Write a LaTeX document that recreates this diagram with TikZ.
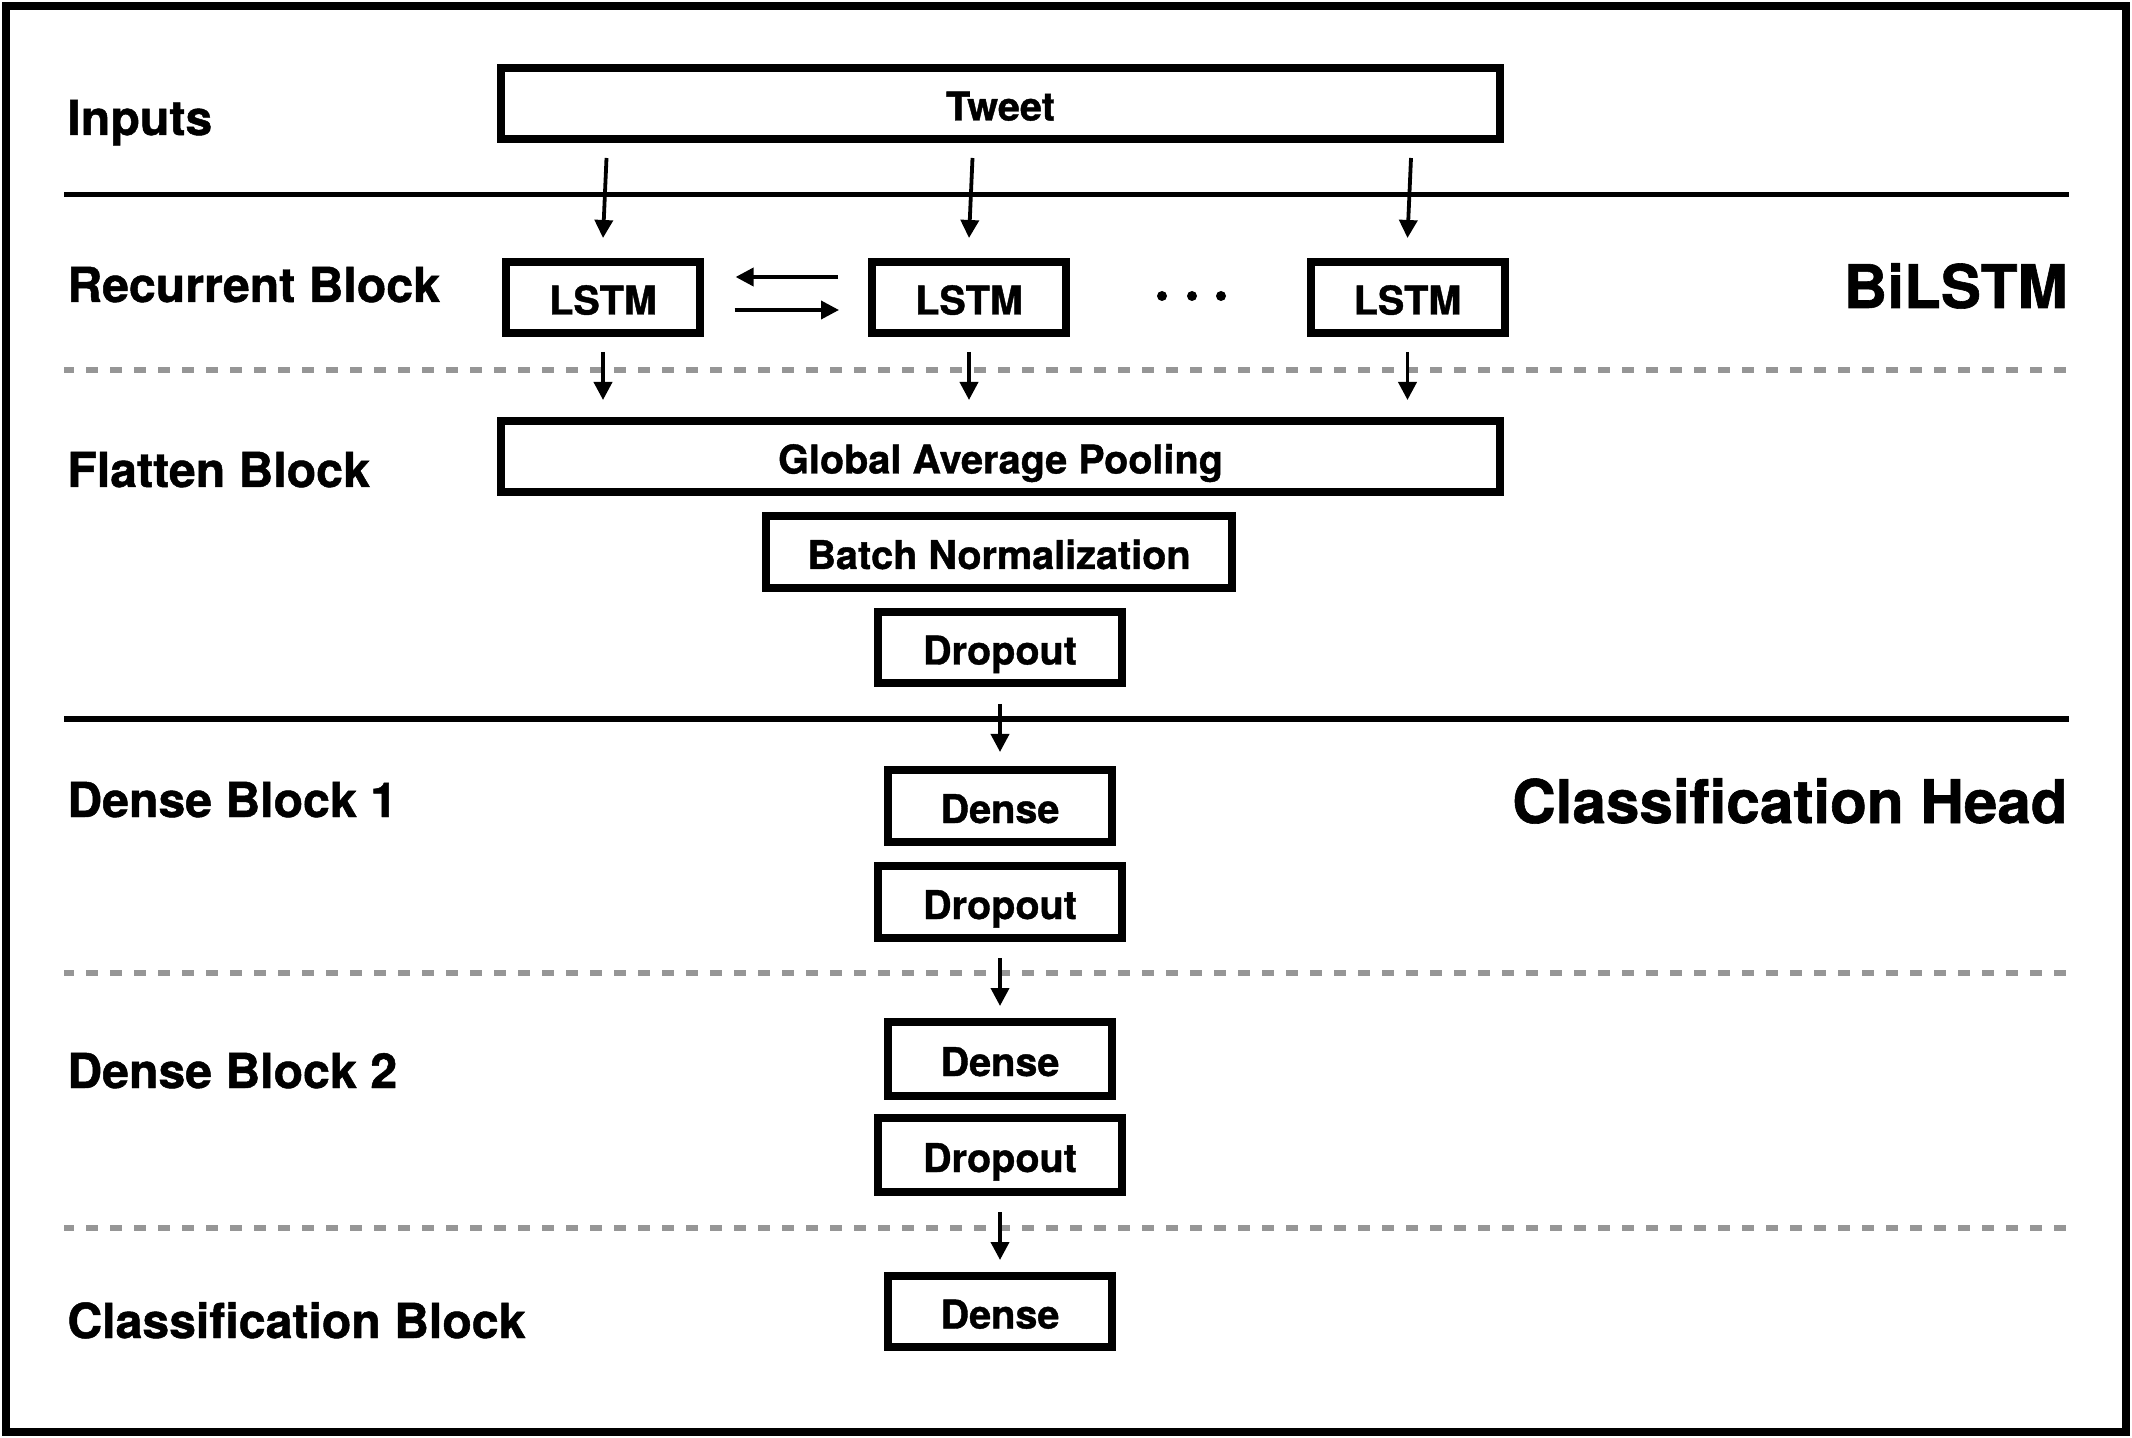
\documentclass[tikz,border=0pt]{standalone}
\usepackage{fontspec}
\setmainfont{TeX Gyre Heros}[BoldFeatures={FakeBold=1}]
\usetikzlibrary{arrows.meta,calc}
\definecolor{sepgray}{RGB}{150,150,150}
\newcommand{\boxfont}{\bfseries\fontsize{19.8pt}{24pt}\selectfont}
\newcommand{\lblfont}{\bfseries\fontsize{24.1pt}{28pt}\selectfont}
\newcommand{\bigfont}{\bfseries\fontsize{30.1pt}{34pt}\selectfont}
\begin{document}
\begin{tikzpicture}[x=0.5pt,y=-0.5pt,
  box/.style={draw, line width=4pt, inner sep=0pt, font=\boxfont,
    text height=17pt, text depth=0pt, minimum height=35.5pt},
  lbl/.style={anchor=base west, inner sep=0pt, font=\lblfont},
  biglbl/.style={anchor=base east, inner sep=0pt, font=\bigfont},
  arr/.style={line width=1.9pt, -{Triangle[length=9pt,width=9pt]}},
  solidsep/.style={line width=2.9pt},
  dashsep/.style={line width=3pt, sepgray, dash pattern=on 6pt off 6pt, dash phase=1pt}]
\useasboundingbox (0,0) rectangle (2132,1438);
% frame
\draw[line width=4pt] (6,6) rectangle (2126,1432);
% separators
\draw[solidsep] (64,194.5) -- (2069,194.5);
\draw[solidsep] (64,719) -- (2069,719);
\draw[dashsep] (64,370) -- (2069,370);
\draw[dashsep] (64,973) -- (2069,973);
\draw[dashsep] (64,1228) -- (2069,1228);
% labels
\node[lbl] (linputs) at (67,135) {Inputs};
\node[lbl] (lrec) at (67,302) {Recurrent Block};
\node[lbl] (lflat) at (67,487) {Flatten Block};
\node[lbl] (ldense1) at (67,817) {Dense Block 1};
\node[lbl] (ldense2) at (67,1088) {Dense Block 2};
\node[lbl] (lclass) at (67,1338) {Classification Block};
\node[biglbl] (lbilstm) at (2068,308) {BiLSTM};
\node[biglbl] (lhead) at (2068,823) {Classification Head};
% boxes
\node[box, minimum width=499.5pt] (tweet) at (1000.5,103.5) {Tweet};
\node[box, minimum width=97pt] (lstm1) at (603,297.5) {LSTM};
\node[box, minimum width=97pt] (lstm2) at (969,297.5) {LSTM};
\node[box, minimum width=97pt] (lstm3) at (1407.5,297.5) {LSTM};
\node[box, minimum width=499.5pt] (gap) at (1000.5,456.5) {Global Average Pooling};
\node[box, minimum width=233pt, minimum height=36pt] (bn) at (999,552) {Batch Normalization};
\node[box, minimum width=122pt] (drop1) at (1000,647.5) {Dropout};
\node[box, minimum width=112pt, minimum height=36pt] (dense1) at (1000,806) {Dense};
\node[box, minimum width=122pt, minimum height=36pt] (drop2) at (1000,902) {Dropout};
\node[box, minimum width=112pt, minimum height=37pt] (dense2) at (1000,1059) {Dense};
\node[box, minimum width=122pt, minimum height=37pt] (drop3) at (1000,1155) {Dropout};
\node[box, minimum width=112pt, minimum height=35.5pt] (dense3) at (1000,1311.5) {Dense};
% dots
\fill (1162,296) circle[radius=2.5pt];
\fill (1192,296) circle[radius=2.5pt];
\fill (1221,296) circle[radius=2.5pt];
% tweet -> lstm arrows (slightly slanted)
\coordinate (t1) at (lstm1.north |- tweet.south);
\coordinate (t2) at (lstm2.north |- tweet.south);
\coordinate (t3) at (lstm3.north |- tweet.south);
\draw[arr] ($(t1)+(3.5,15)$) -- ($(lstm1.north)+(0,-20)$);
\draw[arr] ($(t2)+(3.5,15)$) -- ($(lstm2.north)+(0,-20)$);
\draw[arr] ($(t3)+(3.5,15)$) -- ($(lstm3.north)+(0,-20)$);
% bidirectional arrows
\draw[arr, shorten <=15pt, shorten >=15.8pt] ([yshift=10.25pt]lstm2.west) -- ([yshift=10.25pt]lstm1.east);
\draw[arr, shorten <=15.25pt, shorten >=14.5pt] ([yshift=-6.25pt]lstm1.east) -- ([yshift=-6.25pt]lstm2.west);
% lstm -> gap
\draw[arr, shorten <=7.5pt, shorten >=8.5pt] (lstm1.south) -- (lstm1.south |- gap.north);
\draw[arr, shorten <=7.5pt, shorten >=8.5pt] (lstm2.south) -- (lstm2.south |- gap.north);
\draw[arr, shorten <=7.5pt, shorten >=8.5pt] (lstm3.south) -- (lstm3.south |- gap.north);
% dropout -> dense
\draw[arr, shorten <=8.5pt, shorten >=7pt] (drop1.south) -- (dense1.north);
\draw[arr, shorten <=8.2pt, shorten >=6pt] (drop2.south) -- (dense2.north);
\draw[arr, shorten <=8.2pt, shorten >=6pt] (drop3.south) -- (dense3.north);
\end{tikzpicture}
\end{document}
